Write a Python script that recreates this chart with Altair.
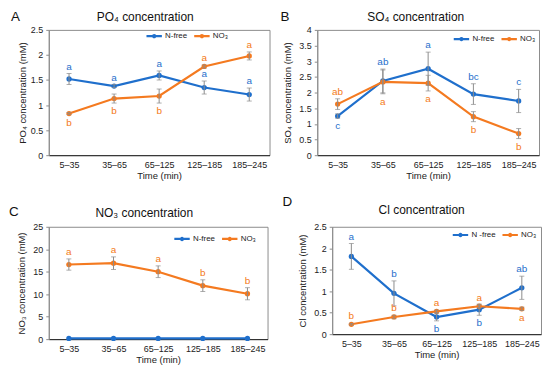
import altair as alt
import pandas as pd

times = ["5–35", "35–65", "65–125", "125–185", "185–245"]
series_names = ["N-free", "NO₃"]

# Panel A: PO4
a_nf = [1.52, 1.38, 1.59, 1.35, 1.21]
a_nf_err = [0.11, 0.03, 0.09, 0.13, 0.13]
a_nf_let = ["a", "a", "a", "a", "a"]
a_nf_side = ["above", "above", "above", "above", "above"]
a_no3 = [0.83, 1.13, 1.18, 1.77, 1.98]
a_no3_err = [0.02, 0.09, 0.14, 0.03, 0.08]
a_no3_let = ["b", "b", "b", "a", "a"]
a_no3_side = ["below", "below", "below", "above", "above"]

# Panel B: SO4
b_nf = [1.25, 2.37, 2.76, 1.95, 1.73]
b_nf_err = [0.07, 0.38, 0.53, 0.33, 0.37]
b_nf_let = ["c", "ab", "a", "bc", "c"]
b_nf_side = ["below", "above", "above", "above", "above"]
b_no3 = [1.63, 2.34, 2.30, 1.23, 0.69]
b_no3_err = [0.17, 0.38, 0.25, 0.16, 0.16]
b_no3_let = ["ab", "a", "a", "b", "b"]
b_no3_side = ["above", "below", "below", "below", "below"]

# Panel C: NO3
c_nf = [0.15, 0.15, 0.15, 0.15, 0.15]
c_nf_err = [0, 0, 0, 0, 0]
c_nf_let = ["", "", "", "", ""]
c_nf_side = ["above", "above", "above", "above", "above"]
c_no3 = [16.6, 16.9, 15.0, 11.9, 10.1]
c_no3_err = [1.25, 1.4, 1.3, 1.3, 1.35]
c_no3_let = ["a", "a", "a", "b", "b"]
c_no3_side = ["above", "above", "above", "above", "above"]

# Panel D: Cl
d_nf = [1.81, 0.95, 0.40, 0.57, 1.08]
d_nf_err = [0.30, 0.29, 0.09, 0.13, 0.27]
d_nf_let = ["a", "b", "b", "b", "ab"]
d_nf_side = ["above", "above", "below", "below", "above"]
d_no3 = [0.23, 0.40, 0.53, 0.65, 0.59]
d_no3_err = [0.02, 0.04, 0.03, 0.03, 0.04]
d_no3_let = ["b", "b", "a", "a", "a"]
d_no3_side = ["above", "above", "above", "above", "below"]

BLUE = "#1f6fcc"
ORANGE = "#f47a20"
GRAY = "#8c8c8c"
FONT = "Liberation Sans"
LEG_SYMBOL = "M-1,0L1,0M-0.14,0a0.14,0.14 0 1,0 0.28,0a0.14,0.14 0 1,0 -0.28,0"


def make_df(nf, nf_err, nf_let, nf_side, no3, no3_err, no3_let, no3_side):
    rows = []
    for i, t in enumerate(times):
        rows.append(dict(time=t, series=series_names[0], value=nf[i], err=nf_err[i],
                         letter=nf_let[i], side=nf_side[i]))
        rows.append(dict(time=t, series=series_names[1], value=no3[i], err=no3_err[i],
                         letter=no3_let[i], side=no3_side[i]))
    return pd.DataFrame(rows)


def panel(df, letter, title, ytitle, ymax, ystep, w, h, legx, legy,
          let_xy, title_xy, label_expr=None, ytitle_pad=3):
    n = int(round(ymax / ystep))
    yvals = [round(k * ystep, 3) for k in range(n + 1)]
    x = alt.X("time:N", sort=times,
              scale=alt.Scale(type="point", padding=0.45),
              axis=alt.Axis(title="Time (min)", labelAngle=0, ticks=False,
                            domainColor="#222222", labelPadding=5,
                            titlePadding=1))
    yscale = alt.Scale(domain=[0, ymax], nice=False, zero=True)
    yaxis = alt.Axis(title=ytitle, values=yvals, format="~r", grid=False,
                     tickSize=3, tickColor=GRAY, domainColor=GRAY,
                     titlePadding=ytitle_pad, labelPadding=3, labelOverlap=False)
    y = alt.Y("value:Q", scale=yscale, axis=yaxis)
    leg_kwargs = dict(title=None, orient="none", legendX=legx, legendY=legy,
                      direction="horizontal", symbolType=LEG_SYMBOL,
                      symbolStrokeWidth=2.2, symbolSize=240, columnPadding=1,
                      labelOffset=2, labelFontSize=8, labelFont=FONT,
                      labelColor="#222222")
    if label_expr:
        leg_kwargs["labelExpr"] = label_expr
    color = alt.Color("series:N",
                      scale=alt.Scale(domain=series_names, range=[BLUE, ORANGE]),
                      legend=alt.Legend(**leg_kwargs))

    base = alt.Chart(df).transform_calculate(
        lo="datum.value - datum.err", hi="datum.value + datum.err")

    line = base.mark_line(strokeWidth=2.2).encode(x=x, y=y, color=color)
    pts = base.mark_point(filled=True, size=28, opacity=1).encode(
        x=x, y=y, color=color)
    eb = base.transform_filter("datum.err > 0")
    rule = eb.mark_rule(color=GRAY, strokeWidth=1).encode(
        x=x, y=alt.Y("lo:Q", scale=yscale, axis=yaxis), y2="hi:Q")
    cap_lo = eb.mark_tick(color=GRAY, size=5, thickness=1).encode(
        x=x, y=alt.Y("lo:Q", scale=yscale, axis=yaxis))
    cap_hi = eb.mark_tick(color=GRAY, size=5, thickness=1).encode(
        x=x, y=alt.Y("hi:Q", scale=yscale, axis=yaxis))
    t_above = base.transform_filter("datum.side == 'above'").mark_text(
        baseline="bottom", dy=-2, fontSize=10, font=FONT).encode(
        x=x, y=alt.Y("hi:Q", scale=yscale, axis=yaxis), text="letter:N", color=color)
    t_below = base.transform_filter("datum.side == 'below'").mark_text(
        baseline="top", dy=3, fontSize=10, font=FONT).encode(
        x=x, y=alt.Y("lo:Q", scale=yscale, axis=yaxis), text="letter:N", color=color)
    lab = alt.Chart(alt.Data(values=[{}])).mark_text(
        text=letter, align="left", baseline="middle", fontSize=13.5, font=FONT,
        color="#111111").encode(x=alt.value(let_xy[0]), y=alt.value(let_xy[1]))
    ttl = alt.Chart(alt.Data(values=[{}])).mark_text(
        text=title, align="center", baseline="middle", fontSize=12, font=FONT,
        color="#111111").encode(x=alt.value(title_xy[0]), y=alt.value(title_xy[1]))

    return alt.layer(line, pts, rule, cap_lo, cap_hi, t_above, t_below, lab, ttl).properties(
        width=w, height=h)


pA = panel(make_df(a_nf, a_nf_err, a_nf_let, a_nf_side, a_no3, a_no3_err, a_no3_let, a_no3_side),
           "A", "PO₄ concentration", "PO₄ concentration (mM)", 2.5, 0.5, 222, 126, 97, -3,
           (-38, -13), (97, -12.5))
pB = panel(make_df(b_nf, b_nf_err, b_nf_let, b_nf_side, b_no3, b_no3_err, b_no3_let, b_no3_side),
           "B", "SO₄ concentration", "SO₄ concentration (mM)", 4, 0.5, 223, 126, 136, 0,
           (-37, -13), (99, -12.5), ytitle_pad=6)
pC = panel(make_df(c_nf, c_nf_err, c_nf_let, c_nf_side, c_no3, c_no3_err, c_no3_let, c_no3_side),
           "C", "NO₃ concentration", "NO₃ concentration (mM)", 25, 5, 220, 113, 125, 3,
           (-40, -15), (96, -14), ytitle_pad=6)
pD = panel(make_df(d_nf, d_nf_err, d_nf_let, d_nf_side, d_no3, d_no3_err, d_no3_let, d_no3_side),
           "D", "Cl concentration", "Cl concentration (mM)", 2.5, 0.5, 210, 108, 120, -1,
           (-50, -25), (90, -17), ytitle_pad=6,
           label_expr="datum.label == 'N-free' ? 'N -free' : datum.label")

row1 = alt.hconcat(pA, pB, spacing=48, bounds="flush").resolve_scale(
    color="independent").resolve_legend(color="independent")
row2 = alt.hconcat(pC, pD, spacing=65, bounds="flush").resolve_scale(
    color="independent").resolve_legend(color="independent")

chart = alt.vconcat(row1, row2, spacing=198, bounds="flush").resolve_scale(
    color="independent").resolve_legend(color="independent").properties(
    padding={"left": 0, "top": 0, "right": 0, "bottom": 0}
).configure(background="white").configure_view(
    stroke=GRAY, strokeWidth=1
).configure_axis(
    labelFont=FONT, titleFont=FONT, labelFontSize=9, titleFontSize=9.5,
    labelColor="#222222", titleColor="#222222", titleFontWeight="normal"
)

chart.save("out.html", embed_options={"renderer": "svg", "actions": False})
